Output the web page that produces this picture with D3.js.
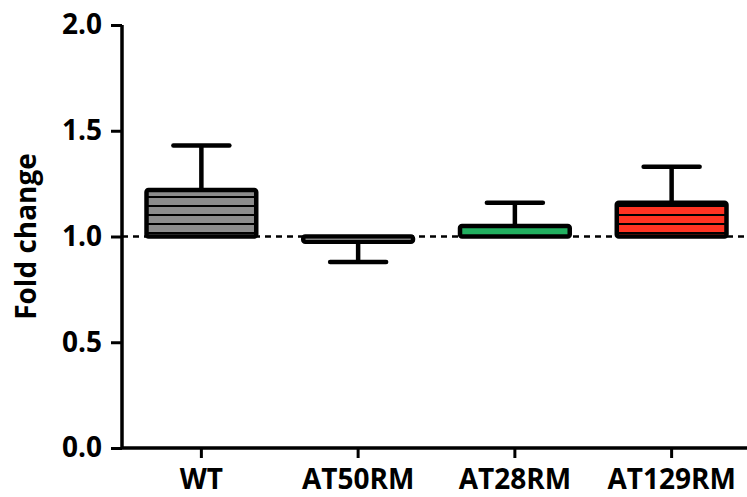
<!DOCTYPE html>
<html>
<head>
<meta charset="utf-8">
<script src="https://cdn.jsdelivr.net/npm/d3@7"></script>
<style>
  body { margin: 0; background: #fff; }
  text { font-family: "Open Sans", "DejaVu Sans", sans-serif; font-weight: bold; }
</style>
</head>
<body>
<script>
// data
const groups = ['WT', 'AT50RM', 'AT28RM', 'AT129RM'];
const means = [1.22, 0.975, 1.05, 1.16];
const errTops = [1.43, 0.88, 1.16, 1.33];
const fills = ['#8c8c8c', '#ffffff', '#22b060', '#ff3322'];
const yTicks = [0.0, 0.5, 1.0, 1.5, 2.0];

const width = 747, height = 497;
const svg = d3.select('body').append('svg').attr('width', width).attr('height', height);

const y = d3.scaleLinear().domain([0, 2]).range([448, 25]);
const x = d3.scaleBand().domain(groups).range([123, 750]).paddingInner(0.3).paddingOuter(0.15);

// stripe patterns
const defs = svg.append('defs');
fills.forEach((c, i) => {
  const p = defs.append('pattern').attr('id', 'str' + i)
    .attr('patternUnits', 'userSpaceOnUse').attr('width', 10).attr('height', 9);
  p.append('rect').attr('width', 10).attr('height', 9).attr('fill', c);
  if (i != 1) p.append('rect').attr('y', 7).attr('width', 10).attr('height', 2).attr('fill', '#000');
});

// bars
groups.forEach((g, i) => {
  const top = y(Math.max(means[i], 1)), bot = y(Math.min(means[i], 1));
  svg.append('rect')
    .attr('x', x(g)).attr('y', top)
    .attr('width', x.bandwidth()).attr('height', Math.max(bot - top, 1))
    .attr('rx', 2)
    .attr('fill', i == 2 ? fills[2] : 'url(#str' + i + ')')
    .attr('stroke', '#000').attr('stroke-width', 4.5);
  // error bar
  const cx = x(g) + x.bandwidth() / 2;
  const from = means[i] >= 1 ? top : bot;
  svg.append('line').attr('x1', cx).attr('x2', cx).attr('y1', from).attr('y2', y(errTops[i]))
    .attr('stroke', '#000').attr('stroke-width', 4.5);
  svg.append('line').attr('x1', cx - 28).attr('x2', cx + 28)
    .attr('y1', y(errTops[i])).attr('y2', y(errTops[i]))
    .attr('stroke', '#000').attr('stroke-width', 4.5).attr('stroke-linecap', 'round');
});

// reference line at 1.0
svg.append('line').attr('x1', 122).attr('x2', width).attr('y1', y(1)).attr('y2', y(1))
  .attr('stroke', '#000').attr('stroke-width', 2.5).attr('stroke-dasharray', '6,5');

// axes
const yAxis = svg.append('g').attr('transform', 'translate(122,0)')
  .call(d3.axisLeft(y).tickValues(yTicks).tickFormat(d3.format('.1f')).tickSize(11).tickPadding(9));
const xAxis = svg.append('g').attr('transform', 'translate(0,' + y(0) + ')')
  .call(d3.axisBottom(x).tickSize(10).tickPadding(11).tickSizeOuter(0));

[yAxis, xAxis].forEach(a => {
  a.select('.domain').attr('stroke', '#000').attr('stroke-width', 3.5);
  a.selectAll('.tick line').attr('stroke', '#000').attr('stroke-width', 3);
  a.selectAll('text').attr('fill', '#000').style('font-size', '28px');
});
yAxis.select('.domain').attr('d', 'M0,' + y(2) + 'H0V' + y(0));
xAxis.select('.domain').attr('d', 'M122,0H' + width);

svg.append('text')
  .attr('transform', 'translate(36,' + y(1) + ') rotate(-90)')
  .attr('text-anchor', 'middle')
  .style('font-size', '28px')
  .text('Fold change');
</script>
</body>
</html>
